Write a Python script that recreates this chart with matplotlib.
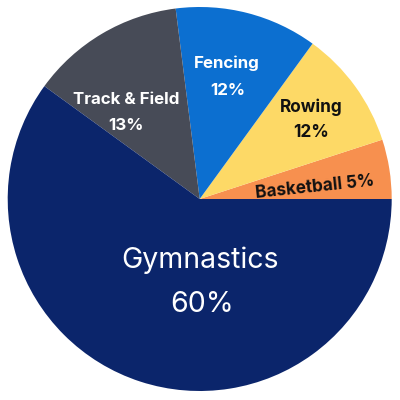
import matplotlib
matplotlib.use("Agg")
import matplotlib.pyplot as plt

# Data (counter-clockwise from 3 o'clock)
sports = ["Basketball", "Rowing", "Fencing", "Track & Field", "Gymnastics"]
shares = [5, 10, 12, 13, 60]          # wedge sizes as drawn
labels_pct = ["5%", "12%", "12%", "13%", "60%"]  # printed labels
colors = ["#f7904f", "#fdd966", "#0c6fd0", "#474b57", "#0b256b"]

plt.rcParams['font.family'] = ['Inter', 'DejaVu Sans']

fig = plt.figure(figsize=(4, 4), dpi=100)
ax = fig.add_axes([0, 0, 1, 1])
R = 192.0
cx, cy = 199.7, 199.0  # pixel centre (from top-left)
ax.pie(shares, colors=colors, startangle=0, counterclock=True, radius=1.0,
       wedgeprops=dict(linewidth=0))
ax.set_xlim(-cx / R, (400 - cx) / R)
ax.set_ylim(-(400 - cy) / R, cy / R)
ax.set_aspect('equal')
ax.axis('off')

def P(px, py):
    return (px - cx) / R, (cy - py) / R

def txt(px, py, s, size, color, weight='bold', va='baseline', rot=0):
    x, y = P(px, py)
    ax.text(x, y, s, ha='center', va=va, fontsize=size, color=color,
            fontweight=weight, rotation=rot, rotation_mode='anchor')

# Gymnastics
txt(200, 267.7, sports[4], 20.5, 'white', weight='normal')
txt(202, 311.7, labels_pct[4], 20.5, 'white', weight='normal')
# Track & Field
txt(126, 104, sports[3], 12.2, 'white')
txt(126, 130, labels_pct[3], 12.2, 'white')
# Fencing
txt(227, 68.3, sports[2], 12.2, 'white')
txt(228, 95, labels_pct[2], 12.2, 'white')
# Rowing
txt(311, 111.7, sports[1], 12.4, '#111111')
txt(311, 136.7, labels_pct[1], 12.4, '#111111')
# Basketball
txt(315, 187, sports[0] + " " + labels_pct[0], 12.3, '#111111', va='center', rot=6)

fig.savefig("out.png", dpi=100, facecolor='white')
